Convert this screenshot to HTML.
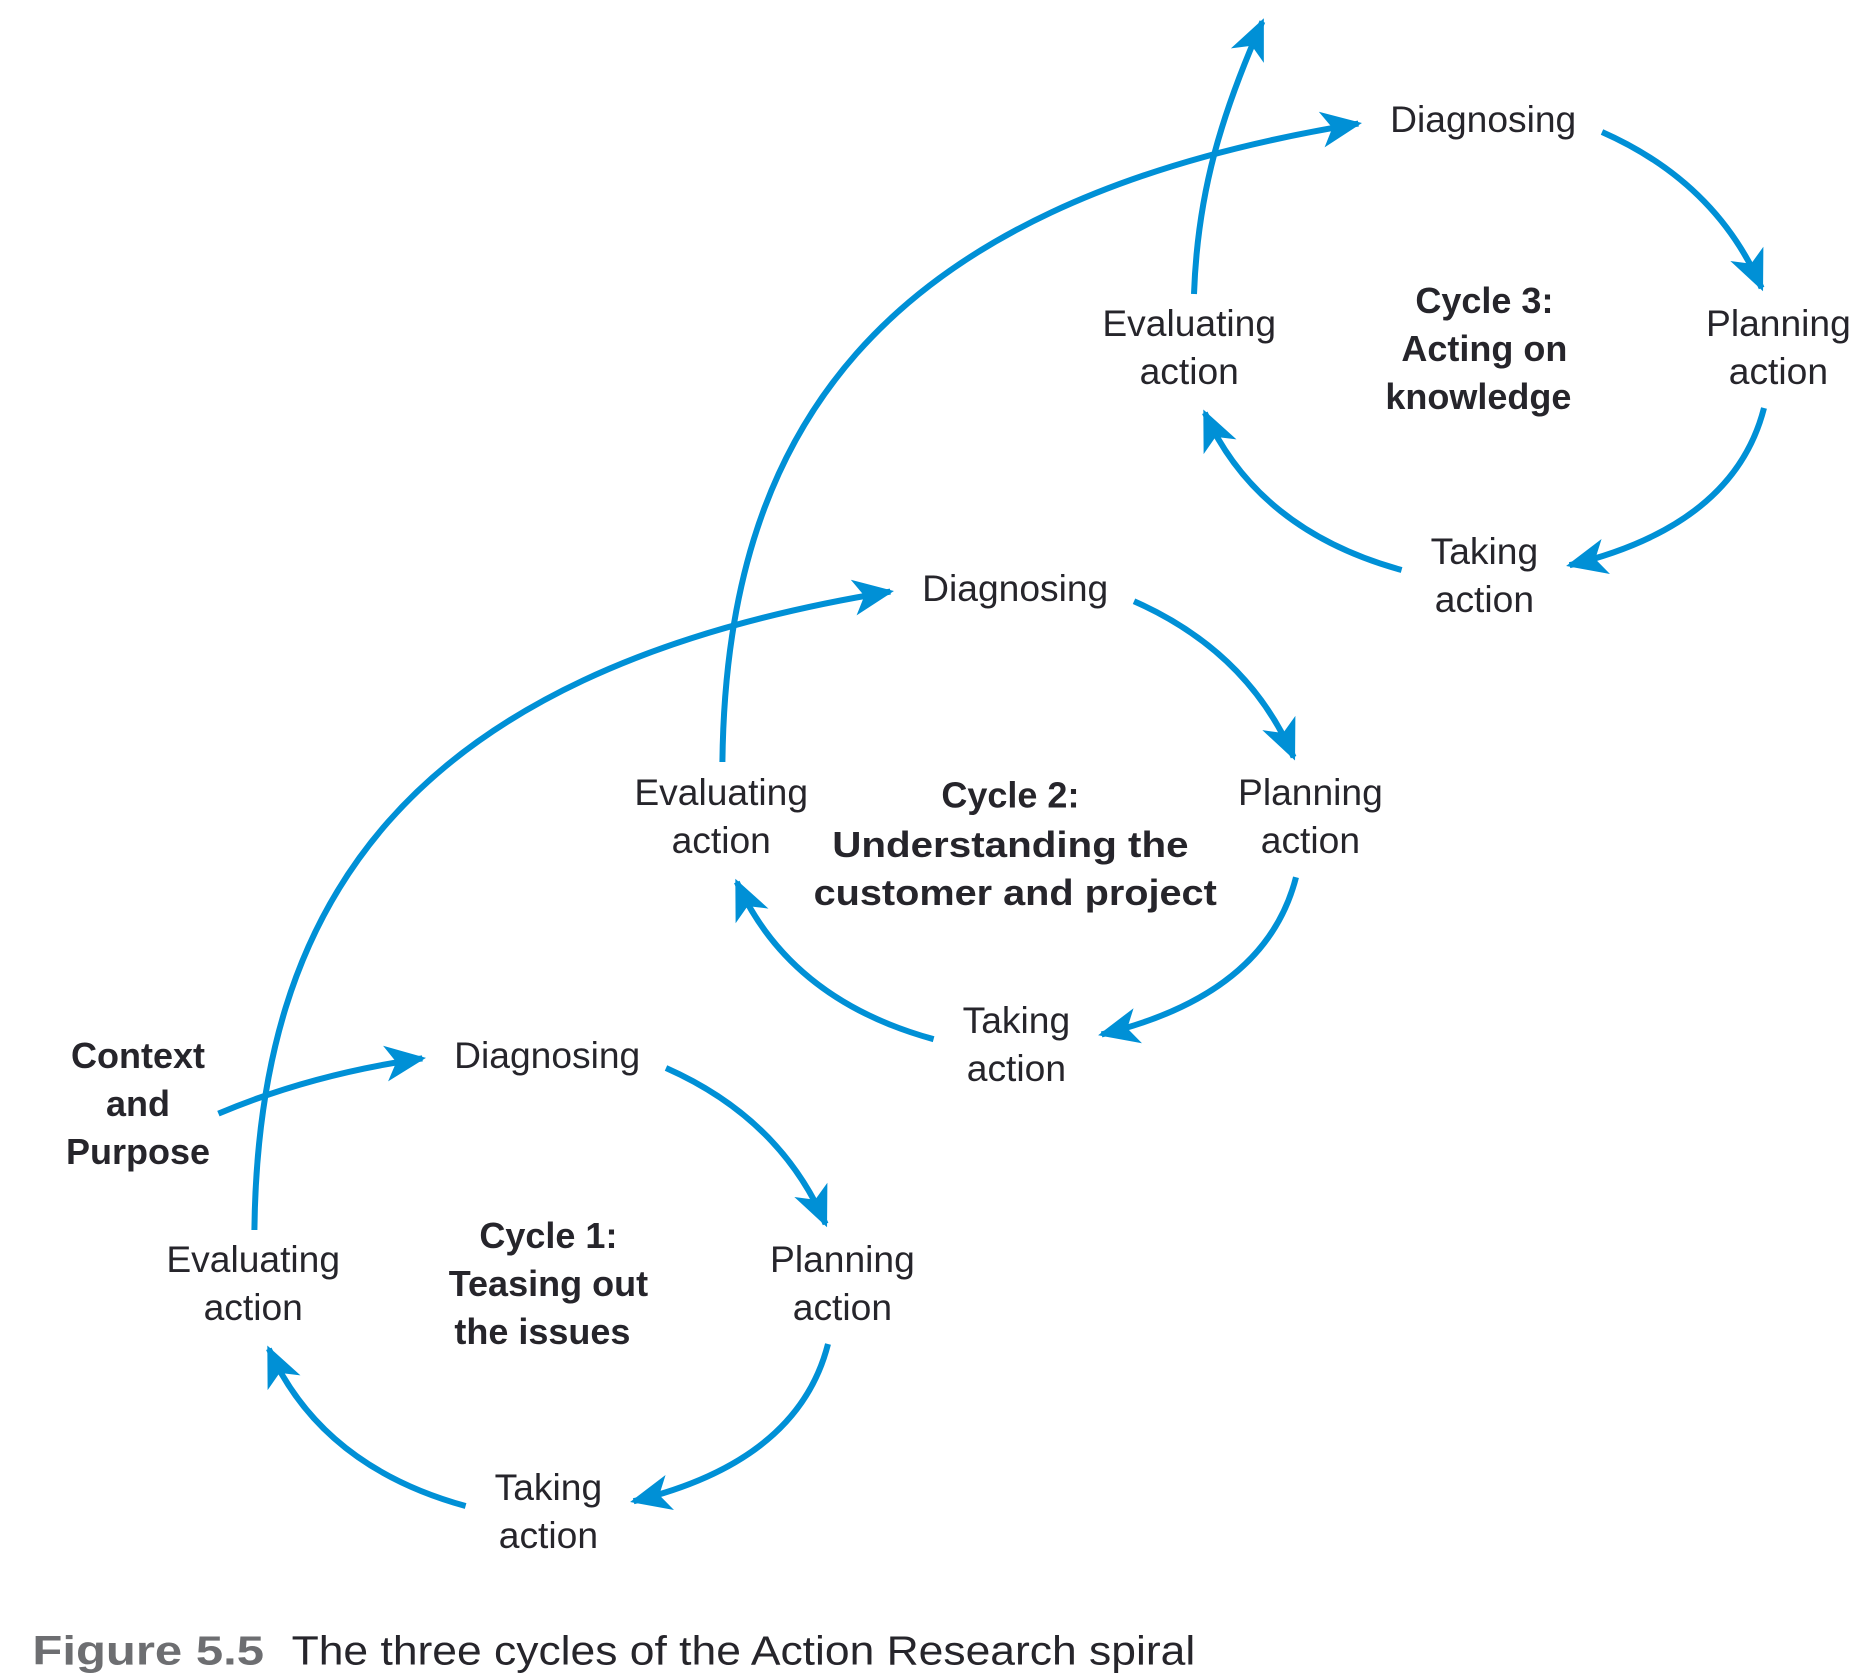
<!DOCTYPE html>
<html><head><meta charset="utf-8"><style>
html,body{margin:0;padding:0;background:#fff;}
svg{display:block}
text{font-family:"Liberation Sans",Arial,sans-serif;fill:#26252b;text-anchor:middle}
.n{font-size:31px}
.b{font-size:30px;font-weight:bold}
</style></head><body>
<svg width="1876" height="1680" viewBox="0 0 1563.33 1400" xmlns="http://www.w3.org/2000/svg">
<defs>
<marker id="ah" markerUnits="userSpaceOnUse" markerWidth="50" markerHeight="50" viewBox="-36 -25 50 50" refX="0" refY="0" orient="auto">
<path d="M3,0 L-31,-15 L-22,0 L-31,15 Z" fill="#0090d6"/>
</marker>
<g id="cyc">
<path d="M555,890 Q650,932 688,1020" fill="none" stroke="#0090d6" stroke-width="5" marker-end="url(#ah)"/>
<path d="M690,1120 Q665,1218 528,1251" fill="none" stroke="#0090d6" stroke-width="5" marker-end="url(#ah)"/>
<path d="M388,1255 Q268,1222 224,1124" fill="none" stroke="#0090d6" stroke-width="5" marker-end="url(#ah)"/>
<text class="n" x="456" y="890">Diagnosing</text>
<text class="n" x="702" y="1060">Planning</text>
<text class="n" x="702" y="1100">action</text>
<text class="n" x="457" y="1250">Taking</text>
<text class="n" x="457" y="1290">action</text>
<text class="n" x="211" y="1060">Evaluating</text>
<text class="n" x="211" y="1100">action</text>
</g>
</defs>
<use href="#cyc"/>
<use href="#cyc" transform="translate(390,-389)"/>
<use href="#cyc" transform="translate(780,-780)"/>

<path d="M182,928 Q260,895 352,882" fill="none" stroke="#0090d6" stroke-width="5" marker-end="url(#ah)"/>
<path d="M212,1025 C215,760 330,560 742,493" fill="none" stroke="#0090d6" stroke-width="5" marker-end="url(#ah)"/>
<path d="M602,635 C605,370 720,170 1132,103" fill="none" stroke="#0090d6" stroke-width="5" marker-end="url(#ah)"/>
<path d="M995,245 C998,160 1018,95 1052,18" fill="none" stroke="#0090d6" stroke-width="5" marker-end="url(#ah)"/>

<text class="b" x="115" y="890">Context</text>
<text class="b" x="115" y="930">and</text>
<text class="b" x="115" y="970">Purpose</text>

<text class="b" x="457" y="1040">Cycle 1:</text>
<text class="b" x="457" y="1080">Teasing out</text>
<text class="b" x="452" y="1120">the issues</text>

<text class="b" x="842" y="673">Cycle 2:</text>
<text class="b" x="842" y="714" textLength="297" lengthAdjust="spacingAndGlyphs">Understanding the</text>
<text class="b" x="846" y="754" textLength="336" lengthAdjust="spacingAndGlyphs">customer and project</text>

<text class="b" x="1237" y="261">Cycle 3:</text>
<text class="b" x="1237" y="301">Acting on</text>
<text class="b" x="1232" y="341">knowledge</text>

<text x="27" y="1387" style="font-size:34px;font-weight:bold;fill:#6d6e71;text-anchor:start" textLength="193" lengthAdjust="spacingAndGlyphs">Figure 5.5</text>
<text x="243" y="1387" style="font-size:34px;text-anchor:start" textLength="753" lengthAdjust="spacingAndGlyphs">The three cycles of the Action Research spiral</text>
</svg>
</body></html>
